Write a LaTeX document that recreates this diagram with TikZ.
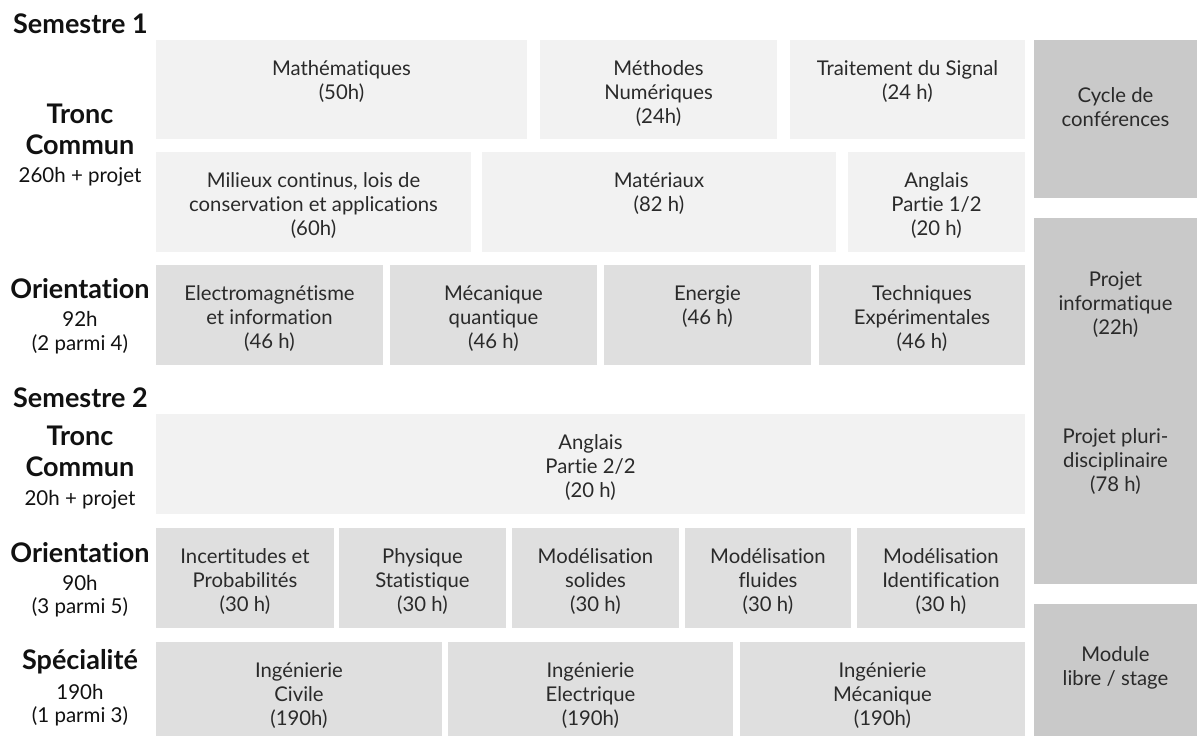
\documentclass[tikz,border=0pt]{standalone}
\usepackage{fontspec}
\setmainfont{Lato}[Ligatures=NoCommon]
\definecolor{lightbox}{HTML}{F2F2F2}
\definecolor{midbox}{HTML}{DFDFDF}
\definecolor{darkbox}{HTML}{C9C9C9}
\definecolor{boxtext}{HTML}{2A2A2A}
\definecolor{labtext}{HTML}{111111}
\newcommand\boxfont{\fontsize{20.3}{24}\selectfont}
% name, x1, y1, x2, y2, style, first-baseline offset, text
\newcommand\mybox[8]{%
  \node[#6, anchor=north west, inner sep=0pt, outer sep=0pt, text=boxtext] (#1) at (#2,#3)
   {\parbox[t][\dimexpr#5pt-#3pt\relax][t]{\dimexpr#4pt-#2pt\relax}{\centering\boxfont\rule{0pt}{#7pt}#8}};%
}
\tikzset{
  lbox/.style={fill=lightbox},
  mbox/.style={fill=midbox},
  dbox/.style={fill=darkbox},
  biglab/.style={font=\fontsize{27}{30}\selectfont\bfseries, text=labtext, inner sep=0pt, anchor=base},
  sublab/.style={font=\fontsize{20.5}{24}\selectfont, text=labtext, inner sep=0pt, anchor=base},
}
\begin{document}
\begin{tikzpicture}[x=1pt, y=-1pt]
\useasboundingbox (0,0) rectangle (1197,736);
% ---- Left labels
\node[biglab, anchor=base west] (s1) at (13,33) {Semestre 1};
\node[biglab] (tc1a) at (80,123) {Tronc};
\node[biglab] (tc1b) at (80,154) {Commun};
\node[sublab] (tc1c) at (80,182) {260h + projet};
\node[biglab] (or1a) at (80,298) {Orientation};
\node[sublab] (or1b) at (80,326) {92h};
\node[sublab] (or1c) at (80,350) {(2 parmi 4)};
\node[biglab, anchor=base west] (s2) at (13,407) {Semestre 2};
\node[biglab] (tc2a) at (80,445) {Tronc};
\node[biglab] (tc2b) at (80,476) {Commun};
\node[sublab] (tc2c) at (80,505) {20h + projet};
\node[biglab] (or2a) at (80,562) {Orientation};
\node[sublab] (or2b) at (80,590) {90h};
\node[sublab] (or2c) at (80,613) {(3 parmi 5)};
\node[biglab] (spa) at (80,669) {Spécialité};
\node[sublab] (spb) at (80,699) {190h};
\node[sublab] (spc) at (80,722) {(1 parmi 3)};
% ---- Semestre 1, tronc commun
\mybox{math}{156}{40}{527}{139}{lbox}{35}{Mathématiques\\(50h)}
\mybox{meth}{540}{40}{777}{139}{lbox}{35}{Méthodes\\Numériques\\(24h)}
\mybox{sig}{790}{40}{1025}{139}{lbox}{35}{Traitement du Signal\\(24 h)}
\mybox{mil}{156}{152}{471}{252}{lbox}{35}{Milieux continus, lois de\\conservation et applications\\(60h)}
\mybox{mat}{482}{152}{836}{252}{lbox}{35}{Matériaux\\(82 h)}
\mybox{ang1}{848}{152}{1025}{252}{lbox}{35}{Anglais\\Partie 1/2\\(20 h)}
% ---- Semestre 1, orientation
\mybox{em}{156}{265}{383}{365}{mbox}{35}{Electromagnétisme\\et information\\(46 h)}
\mybox{mq}{390}{265}{597}{365}{mbox}{35}{Mécanique\\quantique\\(46 h)}
\mybox{en}{604}{265}{811}{365}{mbox}{35}{Energie\\(46 h)}
\mybox{te}{819}{265}{1025}{365}{mbox}{35}{Techniques\\Expérimentales\\(46 h)}
% ---- Semestre 2, tronc commun
\mybox{ang2}{156}{414}{1025}{514}{lbox}{35}{Anglais\\Partie 2/2\\(20 h)}
% ---- Semestre 2, orientation
\mybox{inc}{156}{528}{334}{628}{mbox}{35}{Incertitudes et\\Probabilités\\(30 h)}
\mybox{phy}{339}{528}{506}{628}{mbox}{35}{Physique\\Statistique\\(30 h)}
\mybox{sol}{512}{528}{679}{628}{mbox}{35}{Modélisation\\solides\\(30 h)}
\mybox{flu}{685}{528}{851}{628}{mbox}{35}{Modélisation\\fluides\\(30 h)}
\mybox{ide}{857}{528}{1025}{628}{mbox}{35}{Modélisation\\Identification\\(30 h)}
% ---- Spécialité
\mybox{civ}{156}{642}{442}{736}{mbox}{35}{Ingénierie\\Civile\\(190h)}
\mybox{ele}{448}{642}{733}{736}{mbox}{35}{Ingénierie\\Electrique\\(190h)}
\mybox{mec}{740}{642}{1025}{736}{mbox}{35}{Ingénierie\\Mécanique\\(190h)}
% ---- Right column
\mybox{cyc}{1034}{40}{1197}{198}{dbox}{62}{Cycle de\\conférences}
\mybox{proj}{1034}{218}{1197}{584}{dbox}{68}{Projet\\informatique\\(22h)\\[85pt]Projet pluri-\\disciplinaire\\(78 h)}
\mybox{mod}{1034}{604}{1197}{736}{dbox}{57}{Module\\libre / stage}
\end{tikzpicture}
\end{document}
